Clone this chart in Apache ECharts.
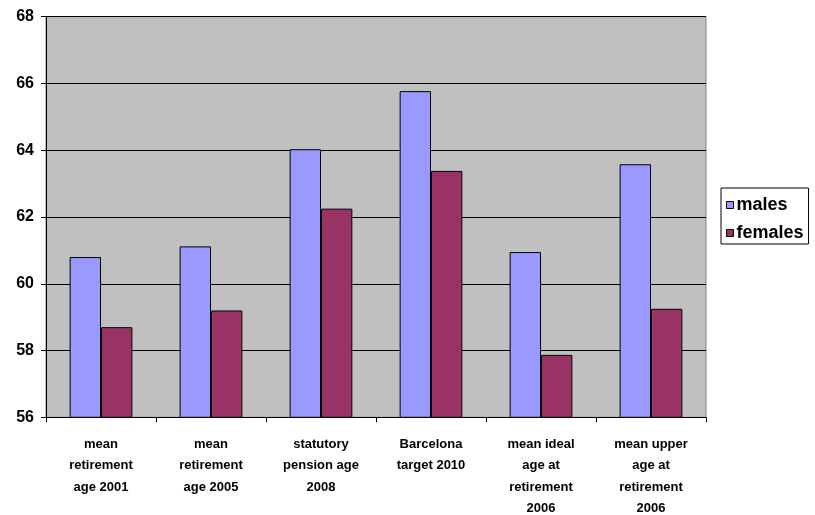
<!DOCTYPE html>
<html><head><meta charset="utf-8">
<script src="https://cdn.jsdelivr.net/npm/echarts@6/dist/echarts.min.js"></script>
<style>html,body{margin:0;padding:0;background:#fff}#c{width:815px;height:515px}</style>
</head><body><div id="c"></div>
<script>
const categories = ["mean\nretirement\nage 2001","mean\nretirement\nage 2005","statutory\npension age\n2008","Barcelona\ntarget 2010","mean ideal\nage at\nretirement\n2006","mean upper\nage at\nretirement\n2006"];
const males = [60.8, 61.12, 64.03, 65.77, 60.95, 63.58];
const females = [58.7, 59.2, 62.25, 63.38, 57.87, 59.25];
const yTicks = [56, 58, 60, 62, 64, 66, 68];

const chart = echarts.init(document.getElementById('c'), null, {renderer:'canvas'});
chart.setOption({
  animation:false,
  backgroundColor:'#ffffff',
  grid:{left:46,right:109,top:16.7,bottom:97.7,containLabel:false,outerBoundsMode:'none',show:true,backgroundColor:'#c0c0c0',borderColor:'#808080',borderWidth:1},
  legend:{orient:'vertical',left:721,top:188,padding:[8,5,2,5],itemGap:10,
    borderColor:'#000',borderWidth:1,backgroundColor:'#fff',
    itemWidth:7,itemHeight:7,icon:'rect',
    itemStyle:{borderColor:'#000',borderWidth:1},
    textStyle:{fontFamily:'Arial, Liberation Sans',fontWeight:'bold',fontSize:18,color:'#000',padding:[0,0,0,-2]},
    data:['males','females']},
  xAxis:{type:'category',data:categories,
    axisLine:{lineStyle:{color:'#000',width:1}},
    axisTick:{show:true,length:5,lineStyle:{color:'#000'}},
    axisLabel:{interval:0,margin:16,color:'#000',fontFamily:'"Liberation Sans Narrow", "Arial Narrow", Arial, "Liberation Sans"',fontWeight:'bold',fontSize:13,lineHeight:21.5}},
  yAxis:{type:'value',min:yTicks[0],max:yTicks[yTicks.length-1],interval:2,
    axisLine:{show:true,lineStyle:{color:'#000',width:1}},
    axisTick:{show:true,length:5,lineStyle:{color:'#000'}},
    splitLine:{show:true,lineStyle:{color:'#000',width:1}},
    axisLabel:{margin:12,color:'#000',fontFamily:'Arial, Liberation Sans',fontWeight:'bold',fontSize:16}},
  series:[
    {name:'males',type:'bar',data:males,barGap:'0%',barCategoryGap:'43%',
     itemStyle:{color:'#9999ff',borderColor:'#000',borderWidth:1}},
    {name:'females',type:'bar',data:females,
     itemStyle:{color:'#993366',borderColor:'#000',borderWidth:1}}
  ]
});
</script></body></html>
